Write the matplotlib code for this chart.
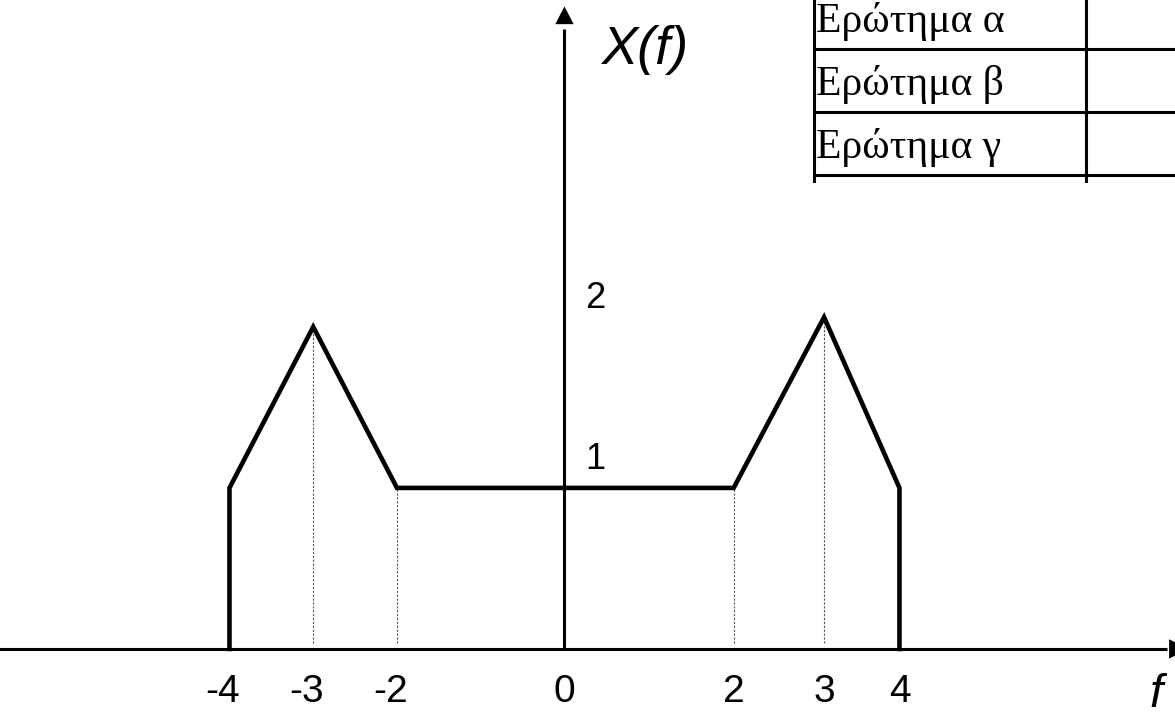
import matplotlib
matplotlib.use("Agg")
import matplotlib.pyplot as plt

# spectrum X(f): corner points
f_pts = [-4, -4, -3, -2, 2.02, 3.1, 4, 4]
x_pts = [0, 1, 2.0, 1, 1, 2.06, 1, 0]

# dotted guides (x, top)
guide_f = [-3, -2, 2.02, 3.1]
guide_top = [2.0, 1, 1, 2.06]

tick_pos = [-4, -3, -2, 0, 2.02, 3.1, 4]
tick_labels = ["-4", "-3", "-2", "0", "2", "3", "4"]
y_marks = [2, 1]

table_rows = ["Ερώτημα α", "Ερώτημα β", "Ερώτημα γ", ""]

fig = plt.figure(figsize=(11.75, 7.19), dpi=100)
ax = fig.add_axes([0, 0, 1, 1])
ax.set_xlim(-6.74, 7.29)
ax.set_ylim(-0.435, 4.03)
ax.axis("off")

sans = "Liberation Sans"

# axes with arrowheads
ax.plot([-6.8, 7.2], [0, 0], color="black", lw=2.2, solid_capstyle="butt")
ax.plot([0, 0], [0, 3.85], color="black", lw=2.2, solid_capstyle="butt")
ax.fill([-0.11, 0.11, 0], [3.88, 3.88, 3.99], color="black", lw=0)
ax.fill([7.22, 7.22, 7.45], [-0.06, 0.06, 0], color="black", lw=0)

# guides
for gf, gt in zip(guide_f, guide_top):
    ax.plot([gf, gf], [0.04, gt], color="#555555", lw=0.8, ls=(0, (2, 1.5)))

# spectrum
ax.plot(f_pts, x_pts, color="black", lw=3.3, solid_joinstyle="miter")

# tick labels: digit centred on the tick, minus sign hangs to the left
for p, lab in zip(tick_pos, tick_labels):
    shift = 0.08 if lab.startswith("-") else 0
    ax.text(p - shift, -0.33, lab, ha="center", va="baseline",
            fontsize=28, family=sans)
for m in y_marks:
    ax.text(0.37, m + 0.12, str(m), ha="center", va="baseline",
            fontsize=26, family=sans)

ax.text(0.96, 3.63, "X(f)", ha="center", va="baseline", fontsize=39,
        family=sans, style="italic")
ax.text(7.06, -0.36, "f", ha="center", va="baseline", fontsize=34,
        family=sans, style="italic")

# answer table in the top right corner (cropped)
tax = fig.add_axes([813 / 1175, (719 - 183) / 719, 1 - 813 / 1175, 183 / 719])
tax.set_xlim(0, 362)
tax.set_ylim(183, 0)
tax.axis("off")
row_h = 63
top = -14
col_split = 273
for i, name in enumerate(table_rows):
    bottom = top + row_h * (i + 1)
    tax.plot([0, 362], [bottom, bottom], color="black", lw=2.2)
    tax.text(3, bottom - 17, name, ha="left", va="baseline", fontsize=30,
             family="Liberation Serif")
tax.plot([1, 1], [0, 183], color="black", lw=2.2)
tax.plot([col_split, col_split], [0, 183], color="black", lw=2.2)

fig.savefig("out.png", dpi=100)
